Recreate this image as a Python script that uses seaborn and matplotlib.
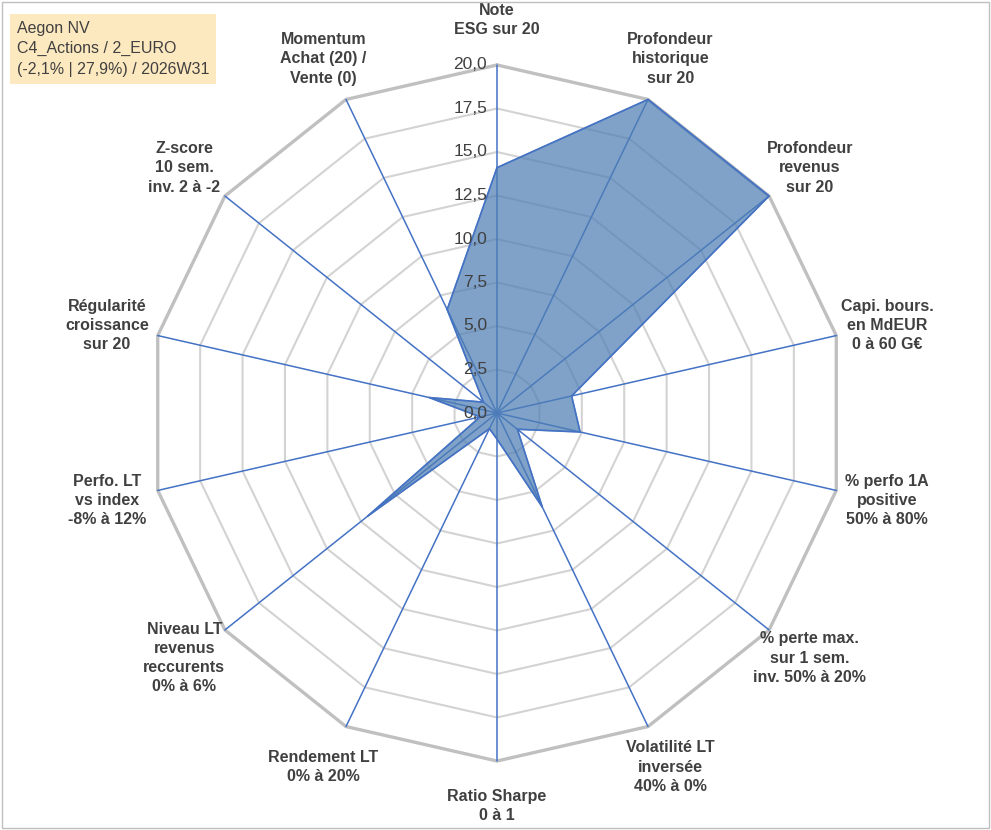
import numpy as np
import matplotlib.pyplot as plt
import seaborn as sns

sns.set_style("white")
plt.rcParams['font.family'] = ['Liberation Sans', 'DejaVu Sans']

axes_labels = [
    "Note\nESG sur 20", "Profondeur\nhistorique\nsur 20", "Profondeur\nrevenus\nsur 20",
    "Capi. bours.\nen MdEUR\n0 à 60 G€", "% perfo 1A\npositive\n50% à 80%",
    "% perte max.\nsur 1 sem.\ninv. 50% à 20%", "Volatilité LT\ninversée\n40% à 0%",
    "Ratio Sharpe\n0 à 1", "Rendement LT\n0% à 20%", "Niveau LT\nrevenus\nreccurents\n0% à 6%",
    "Perfo. LT\nvs index\n-8% à 12%", "Régularité\ncroissance\nsur 20",
    "Z-score\n10 sem.\ninv. 2 à -2", "Momentum\nAchat (20) /\nVente (0)",
]
values = [14.1, 20, 20, 4.4, 4.9, 1.5, 6.0, 1.5, 1.0, 9.5, 1.0, 4.0, 1.0, 6.6]
ticks = [0, 2.5, 5, 7.5, 10, 12.5, 15, 17.5, 20]
title_lines = "Aegon NV\nC4_Actions / 2_EURO\n(-2,1% | 27,9%) / 2026W31"

R = 348.0  # pixel radius of 20
n = len(values)
ang = np.pi / 2 - np.arange(n) * 2 * np.pi / n

fig = plt.figure(figsize=(9.91, 8.3), dpi=100)
ax = fig.add_axes([0, 0, 1, 1])
ax.set_xlim(-497, 494)
ax.set_ylim(-417, 413)
ax.axis("off")

# grid polygons
for t in ticks[1:]:
    r = t / 20 * R
    xs = np.append(r * np.cos(ang), r * np.cos(ang[0]))
    ys = np.append(r * np.sin(ang), r * np.sin(ang[0]))
    lw = 2.4 if t == 20 else 1.5
    ax.plot(xs, ys, color="#c0c0c0" if t == 20 else "#d3d3d3", lw=lw, zorder=1)
# spokes
for a in ang:
    ax.plot([0, R * np.cos(a)], [0, R * np.sin(a)], color="#4472c4", lw=1.1, zorder=2)

# data polygon
rv = np.array(values) / 20 * R
px = np.append(rv * np.cos(ang), rv[0] * np.cos(ang[0]))
py = np.append(rv * np.sin(ang), rv[0] * np.sin(ang[0]))
ax.fill(px, py, color="#4f7fb5", alpha=0.72, zorder=3)
ax.plot(px, py, color="#4472c4", lw=1.2, zorder=4)

# tick labels
for t in ticks:
    ax.text(-10, t / 20 * R, f"{t:.1f}".replace(".", ","), ha="right", va="center",
            fontsize=12.5, color="#404040", zorder=5)

# axis labels
for a, lab in zip(ang, axes_labels):
    ax.text(400 * np.cos(a), 393 * np.sin(a), lab, ha="center", va="center",
            fontsize=11.5, fontweight="bold", color="#404040", linespacing=1.35, zorder=5)

fig.text(0.017, 0.975, title_lines, ha="left", va="top", fontsize=11.5, color="#404040",
         linespacing=1.45,
         bbox=dict(boxstyle="square,pad=0.45", facecolor="#fde9c0", edgecolor="none"))

fig.patches.append(plt.Rectangle((0.002, 0.002), 0.996, 0.996, transform=fig.transFigure,
                                 fill=False, edgecolor="#bfbfbf", lw=1))
fig.savefig("out.png", dpi=100)
